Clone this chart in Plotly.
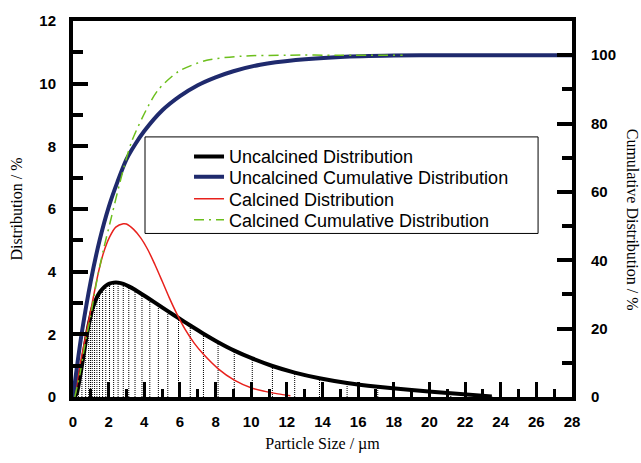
import plotly.graph_objects as go

# Uncalcined distribution (bin sizes, µm) and frequency (%)
unc_size = [0.2, 0.3, 0.5, 0.71, 0.88, 0.98, 1.08, 1.21, 1.34, 1.49, 1.66, 1.84, 2.05, 2.28,
            2.53, 2.82, 3.13, 3.48, 3.87, 4.31, 4.79, 5.32, 5.92, 6.58, 7.32, 8.14, 9.05,
            10.06, 11.19, 12.44, 13.83, 15.38, 17.1, 19.0, 21.2, 23.5]
unc_dist = [0.1, 0.35, 1.0, 1.75, 2.3, 2.55, 2.8, 3.0, 3.18, 3.33, 3.45, 3.55, 3.62, 3.65,
            3.65, 3.61, 3.53, 3.42, 3.28, 3.12, 2.94, 2.74, 2.52, 2.28, 2.02, 1.75, 1.48,
            1.23, 0.99, 0.78, 0.6, 0.45, 0.33, 0.22, 0.12, 0.02]

# Uncalcined cumulative (%)
unc_cum_size = [0, 0.2, 0.5, 1.0, 1.5, 2.0, 2.5, 3.0, 3.5, 4.0, 5.0, 6.0, 7.0, 8.0, 9.0,
                10.5, 12.5, 15, 18, 21, 24, 28]
unc_cum = [0, 8, 19, 34, 46, 55.5, 63, 69.5, 74, 77.8, 83.8, 88, 91.2, 93.5, 95.3,
           97.2, 98.6, 99.5, 99.9, 100, 100, 100]

# Calcined distribution (%)
cal_size = [0.1, 0.3, 0.58, 0.8, 1.05, 1.42, 1.7, 2.05, 2.4, 2.82, 3.0, 3.4, 3.8, 4.2,
            4.6, 5.0, 5.4, 5.82, 6.3, 6.8, 7.31, 8.15, 9.05, 10.06, 10.77, 11.5, 12.2]
cal_dist = [0.05, 0.75, 1.57, 2.2, 2.92, 3.96, 4.58, 5.1, 5.42, 5.53, 5.52, 5.35, 5.08, 4.7,
            4.22, 3.7, 3.17, 2.66, 2.15, 1.72, 1.37, 0.9, 0.54, 0.28, 0.18, 0.1, 0.04]

# Calcined cumulative (%)
cal_cum_size = [0.1, 0.39, 0.67, 1.0, 1.3, 1.7, 2.17, 2.64, 3.29, 4.23, 4.79, 5.91, 7.5,
                9.47, 12, 15, 18.5]
cal_cum = [0, 6.8, 15.4, 24, 33, 42.9, 52.9, 62.9, 74.7, 85.2, 89.9, 95.2, 98.5,
           99.7, 100, 100, 100]

legend_names = ["Uncalcined Distribution", "Uncalcined Cumulative Distribution",
                "Calcined Distribution", "Calcined Cumulative Distribution"]

x_ticks = list(range(0, 29, 2))

BLACK = "#000000"
NAVY = "#1f2a6d"
RED = "#e8211c"
GREEN = "#6cbf1c"

# drop lines from each uncalcined bin to the axis
drop_x, drop_y = [], []
for s, d in zip(unc_size, unc_dist):
    drop_x += [s, s, None]
    drop_y += [0, d, None]

SM = 0.8
fig = go.Figure()
fig.add_trace(go.Scatter(x=drop_x, y=drop_y, mode="lines", showlegend=False,
                         line=dict(color=BLACK, width=1, dash="1px,1px"),
                         hoverinfo="skip"))
fig.add_trace(go.Scatter(x=[0] + unc_size, y=[0] + unc_dist, mode="lines",
                         name=legend_names[0], legend="legend",
                         line=dict(color=BLACK, width=4, shape="spline", smoothing=SM)))
fig.add_trace(go.Scatter(x=unc_cum_size, y=unc_cum, mode="lines", yaxis="y2",
                         name=legend_names[1], legend="legend2",
                         line=dict(color=NAVY, width=4, shape="spline", smoothing=SM)))
fig.add_trace(go.Scatter(x=[0] + cal_size, y=[0] + cal_dist, mode="lines",
                         name=legend_names[2], legend="legend3",
                         line=dict(color=RED, width=1.5, shape="spline", smoothing=SM)))
fig.add_trace(go.Scatter(x=cal_cum_size, y=cal_cum, mode="lines", yaxis="y2",
                         name=legend_names[3], legend="legend4",
                         line=dict(color=GREEN, width=1.5, dash="10px,5px,2px,5px",
                                   shape="spline", smoothing=SM)))

tickfont = dict(family="Liberation Sans", size=15, color="black", weight="bold")
titlefont = dict(family="Liberation Serif", size=16, color="black")

common = dict(showgrid=False, zeroline=False, showline=True, linecolor="black",
              linewidth=4, ticks="inside", tickcolor="black", tickfont=tickfont)

legfont = dict(family="Liberation Sans", size=18, color="black")
leg = dict(x=0.2325, xanchor="left", yanchor="middle", bgcolor="rgba(0,0,0,0)",
           borderwidth=0, font=legfont)

fig.update_layout(
    width=641, height=463,
    margin=dict(l=73, r=69, t=18, b=59),
    paper_bgcolor="white", plot_bgcolor="white",
    xaxis=dict(range=[0, 28], tickvals=x_ticks, ticklen=15, tickwidth=3,
               minor=dict(dtick=1, ticklen=8, tickwidth=3, ticks="inside", tickcolor="black"),
               mirror=True, ticklabelstandoff=8,
               title=dict(text="Particle Size / µm", font=titlefont, standoff=10),
               **common),
    yaxis=dict(range=[0, 12], dtick=2, ticklen=15, tickwidth=4,
               minor=dict(dtick=1, ticklen=10, tickwidth=4, ticks="inside", tickcolor="black"),
               ticklabelstandoff=10,
               title=dict(text="Distribution / %", font=titlefont, standoff=14),
               **common),
    yaxis2=dict(range=[0, 110], dtick=20, ticklen=15, tickwidth=4, overlaying="y", side="right",
                minor=dict(dtick=10, ticklen=10, tickwidth=4, ticks="inside", tickcolor="black"),
                ticklabelstandoff=12,
                **common),
    legend=dict(y=0.639, **leg),
    legend2=dict(y=0.5847, **leg),
    legend3=dict(y=0.5267, **leg),
    legend4=dict(y=0.4707, **leg),
    shapes=[dict(type="rect", xref="paper", yref="paper", x0=0.1443, x1=0.932,
                 y0=0.435, y1=0.6917, line=dict(color="black", width=1),
                 fillcolor="white", layer="above")],
    annotations=[dict(text="Cumulative Distribution / %", xref="paper", yref="paper",
                      x=1.1202, y=0.4715, textangle=90, showarrow=False,
                      font=titlefont, xanchor="center", yanchor="middle")],
)

fig.write_html("out.html")
